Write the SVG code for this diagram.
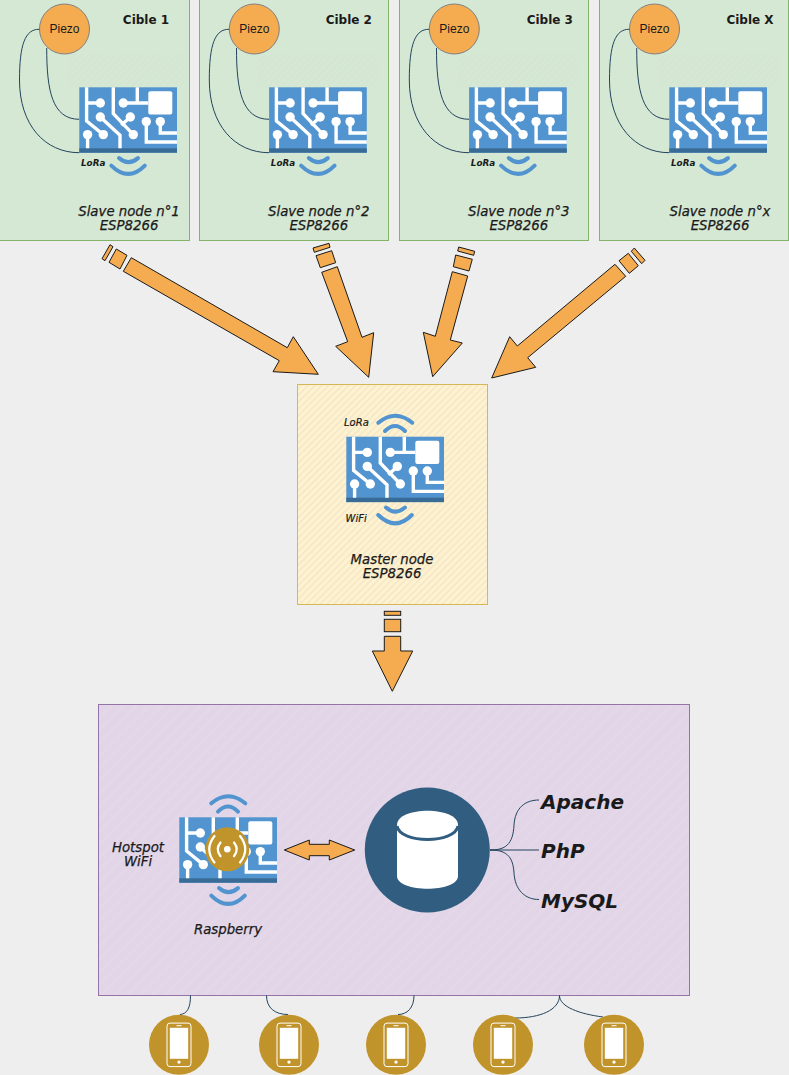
<svg xmlns="http://www.w3.org/2000/svg" width="789" height="1075" viewBox="0 0 789 1075">
<style>
.t{font-family:"DejaVu Sans",sans-serif;fill:#1a1a1a}
.i{font-style:italic;font-size:13.3px;text-anchor:middle;stroke:#1a1a1a;stroke-width:.25}
.ib{font-style:italic;font-weight:bold;font-size:8.8px}
.im{font-style:italic;font-size:10px;stroke:#1a1a1a;stroke-width:.2}
.b{font-weight:bold;font-size:12px}
.big{font-style:italic;font-weight:bold;font-size:20px}
.p{font-family:"Liberation Sans",Arial,sans-serif;font-size:12px;fill:#1a1a1a;text-anchor:middle}
.a{fill:#f5ab50;stroke:#1a1a1a;stroke-width:1}
.c{fill:none;stroke:#23445d;stroke-width:1}
.w{fill:none;stroke:#5294cf;stroke-width:4;stroke-linecap:round}
.tr{fill:none;stroke:#fff;stroke-width:3.4}
.green{fill:#d5e8d4;stroke:#82b366}
</style>
<defs>
<pattern id="hy" width="4.8" height="4.8" patternUnits="userSpaceOnUse" patternTransform="rotate(-45)"><rect width="4.8" height="4.8" fill="#fff2cc"/><rect width="4.8" height="1.4" fill="#f0e6cf"/></pattern>
<pattern id="hg" width="4.8" height="4.8" patternUnits="userSpaceOnUse" patternTransform="rotate(-45)"><rect width="4.8" height="1.4" fill="#d3e4d3"/></pattern>
<pattern id="hp" width="9" height="9" patternUnits="userSpaceOnUse" patternTransform="rotate(-45)"><rect width="9" height="9" fill="#e1d5e7"/><rect width="9" height="3" fill="#e3d7e8"/></pattern>
<g id="chip">
<rect width="97.7" height="65.4" fill="#5294cf"/>
<rect y="61" width="97.7" height="4.4" fill="#386b96"/>
<path class="tr" d="M7.3,0V33.7L24,47.3M7.3,15.7H21M8.3,47.3V61M21,29.7L40.7,48V61M34,0V26.3L54,47.3M51,29.7L42,38M44,15.7H69M58,0V15.7M67,34.3V54.7H97.7M81,34.3V45.7H97.7"/>
<g fill="#fff"><circle cx="21" cy="15.7" r="4.7"/><circle cx="8.3" cy="47.3" r="4.7"/><circle cx="24" cy="47.3" r="4.7"/><circle cx="21" cy="29.7" r="4.7"/><circle cx="54" cy="47.3" r="4.7"/><circle cx="51" cy="29.7" r="4.7"/><circle cx="44" cy="15.7" r="4.7"/><circle cx="67" cy="34.3" r="4.7"/><circle cx="81" cy="34.3" r="4.7"/><rect x="69" y="4" width="24" height="23.3" rx="2"/></g>
</g>
<path id="wd" class="w" d="M39.7,70.8Q49,79 58.7,70.8M32,78.3Q49,95 65.5,78.3"/>
<path id="wu" class="w" d="M38.7,-5.7Q48.7,-15.7 58.7,-5.7M32,-14Q49,-28 66,-14"/>
<g id="phone">
<circle r="30" fill="#c1942b"/>
<rect x="-12" y="-21.7" width="24" height="43.5" rx="3" fill="none" stroke="#fff" stroke-width="1"/>
<rect x="-9.2" y="-17" width="18.4" height="31" fill="#fff"/>
<rect x="-2.5" y="-19.6" width="5" height="1" fill="#fff"/>
<circle cy="17.3" r="1.7" fill="#fff"/>
</g>
<g id="slave-base">
<rect x="68" y="54" width="120" height="33" fill="url(#hg)"/>
<circle cx="64.5" cy="29" r="25" fill="#f5ab50" stroke="#808080"/>
<text class="p" x="64.5" y="33">Piezo</text>
<path class="c" d="M39.3,29.3C25,29 19.5,45 19.5,80C19.5,125 45,152.7 79.3,152.7M46.7,48C46.7,90 52,119.3 79.3,119.3"/>
<use href="#chip" x="79.3" y="87.3"/>
<use href="#wd" x="79.3" y="87.3"/>
<text class="t ib" x="81" y="166">LoRa</text>
</g>
</defs>
<rect width="789" height="1075" fill="#eeeeee"/>
<g id="slave1"><rect class="green" x="-0.5" y="-1" width="190" height="241.5"/><use href="#slave-base"/><text class="t b" x="146" y="24" text-anchor="middle">Cible 1</text><text class="t i" x="129" y="216">Slave node n°1</text><text class="t i" x="129" y="230">ESP8266</text></g>
<g id="slave2" transform="translate(189.8,0)"><rect class="green" x="9.7" y="-1" width="189" height="241.5"/><use href="#slave-base"/><text class="t b" x="159" y="24" text-anchor="middle">Cible 2</text><text class="t i" x="129" y="216">Slave node n°2</text><text class="t i" x="129" y="230">ESP8266</text></g>
<g id="slave3" transform="translate(389.8,0)"><rect class="green" x="9.7" y="-1" width="189" height="241.5"/><use href="#slave-base"/><text class="t b" x="160" y="24" text-anchor="middle">Cible 3</text><text class="t i" x="129" y="216">Slave node n°3</text><text class="t i" x="129" y="230">ESP8266</text></g>
<g id="slaveX" transform="translate(590,0)"><rect class="green" x="9.5" y="-1" width="189" height="241.5"/><use href="#slave-base"/><text class="t b" x="160" y="24" text-anchor="middle">Cible X</text><text class="t i" x="130" y="216">Slave node n°x</text><text class="t i" x="130" y="230">ESP8266</text></g>

<g id="arrows">
<polygon class="a" points="131.3,257.7 287.3,347.7 293.3,336.7 318.3,374.3 273,371.7 279.3,360.7 123.3,271.3"/>
<polygon class="a" points="116.3,249 127,255.3 120,269 109,262.3"/>
<polygon class="a" points="110,244.7 113,246.7 105,260.7 102,258.7"/>
<polygon class="a" points="337.3,266.7 362,337.3 373.7,332.7 368.7,377.3 335.7,346.3 347.7,341.7 321.7,272.3"/>
<polygon class="a" points="331.7,250.7 335.7,262.7 320.3,267.7 316,255.7"/>
<polygon class="a" points="329,243.3 330,247.3 314.3,252.3 313,248"/>
<polygon class="a" points="452.3,271.7 467.7,276 450.3,340 462.3,343 432.7,376.7 423.3,332.3 435.3,336.3"/>
<polygon class="a" points="455.7,255 472.3,259.3 469,271 453.3,266.7"/>
<polygon class="a" points="458.7,247 474.7,251.3 473.7,255.3 457.7,251"/>
<polygon class="a" points="615,264.3 625.7,276.3 527.7,357.7 535.7,367.3 491.7,378 509.7,336.7 517.3,346"/>
<polygon class="a" points="619,260.7 628.3,253.3 638.3,265.7 629.3,273.3"/>
<polygon class="a" points="631.3,251.3 634.3,248 645,260.3 641.7,263.7"/>
<polygon class="a" points="384.3,636.3 400.7,636.3 400.7,651 412.7,651 392.3,691.3 372.3,651 384.3,651"/>
<rect class="a" x="384.3" y="619.3" width="16.4" height="12.4"/>
<rect class="a" x="384.3" y="611.3" width="16.4" height="4"/>
</g>

<g id="master">
<rect x="297.5" y="384.5" width="190" height="220" fill="url(#hy)" stroke="#d6b656"/>
<use href="#chip" x="346.3" y="436.7"/>
<use href="#wu" x="346.3" y="436.7"/>
<use href="#wd" x="346.3" y="436.7"/>
<text class="t im" x="344" y="426">LoRa</text>
<text class="t im" x="345.5" y="522">WiFi</text>
<text class="t i" x="392" y="564">Master node</text>
<text class="t i" x="392" y="578">ESP8266</text>
</g>

<g id="server">
<rect x="98.5" y="704.5" width="591" height="291" fill="url(#hp)" stroke="#9673a6"/>
</g>
<g id="raspberry">
<use href="#chip" x="179.3" y="817.3"/>
<use href="#wu" x="179.3" y="817.3"/>
<use href="#wd" x="179.3" y="817.3"/>
<circle cx="227.3" cy="849.3" r="22" fill="#c1942b"/>
<circle cx="227.3" cy="849.3" r="3.3" fill="#fff"/>
<path d="M220.5,842.5Q215,849.3 220.5,856.2M234,842.5Q239.5,849.3 234,856.2M214.5,836Q204,849.3 214.5,862.5M240,836Q250.5,849.3 240,862.5" fill="none" stroke="#fff" stroke-width="2.2" stroke-linecap="round"/>
<text class="t i" x="138" y="852">Hotspot</text>
<text class="t i" x="138" y="866">WiFi</text>
<text class="t i" x="228" y="934">Raspberry</text>
</g>
<g id="link"><polygon class="a" points="284.3,850 309.3,840 309.3,844.3 329.3,844.3 329.3,840 354.7,850 329.3,860 329.3,855.7 309.3,855.7 309.3,860"/></g>
<g id="database">
<circle cx="427.3" cy="850" r="62.5" fill="#315d81"/>
<path d="M397,825C397,806 458,806 458,825V876C458,893 397,893 397,876Z" fill="#fff"/>
<path d="M397,826C400,844 455,844 458,826" fill="none" stroke="#315d81" stroke-width="3"/>
</g>
<g id="stack">
<text class="t big" x="541" y="809">Apache</text>
<text class="t big" x="541" y="858">PhP</text>
<text class="t big" x="541" y="908">MySQL</text>
</g>
<g id="connectors">
<path class="c" d="M490,850C505,850 513,845 514,825C515,808 525,800 539,800M490,850H539M490,850C505,850 513,855 514,873C515,890 525,899.5 539,899.5"/>
<path class="c" d="M190.5,995.5C190.5,1008 187,1014 180,1014.5M266.5,995.5C266.5,1008 275,1014.5 288,1014.5M414,995.5C414,1008 407,1014.5 398,1014.5M559.5,995.5C559.5,1010 540,1018 515,1018M559.5,995.5C559.5,1007 580,1014 603,1017"/>
</g>
<use id="phone1" href="#phone" x="179" y="1044.8"/>
<use id="phone2" href="#phone" x="289" y="1044.8"/>
<use id="phone3" href="#phone" x="396" y="1044.8"/>
<use id="phone4" href="#phone" x="503" y="1044.8"/>
<use id="phone5" href="#phone" x="614" y="1044.8"/>
</svg>
